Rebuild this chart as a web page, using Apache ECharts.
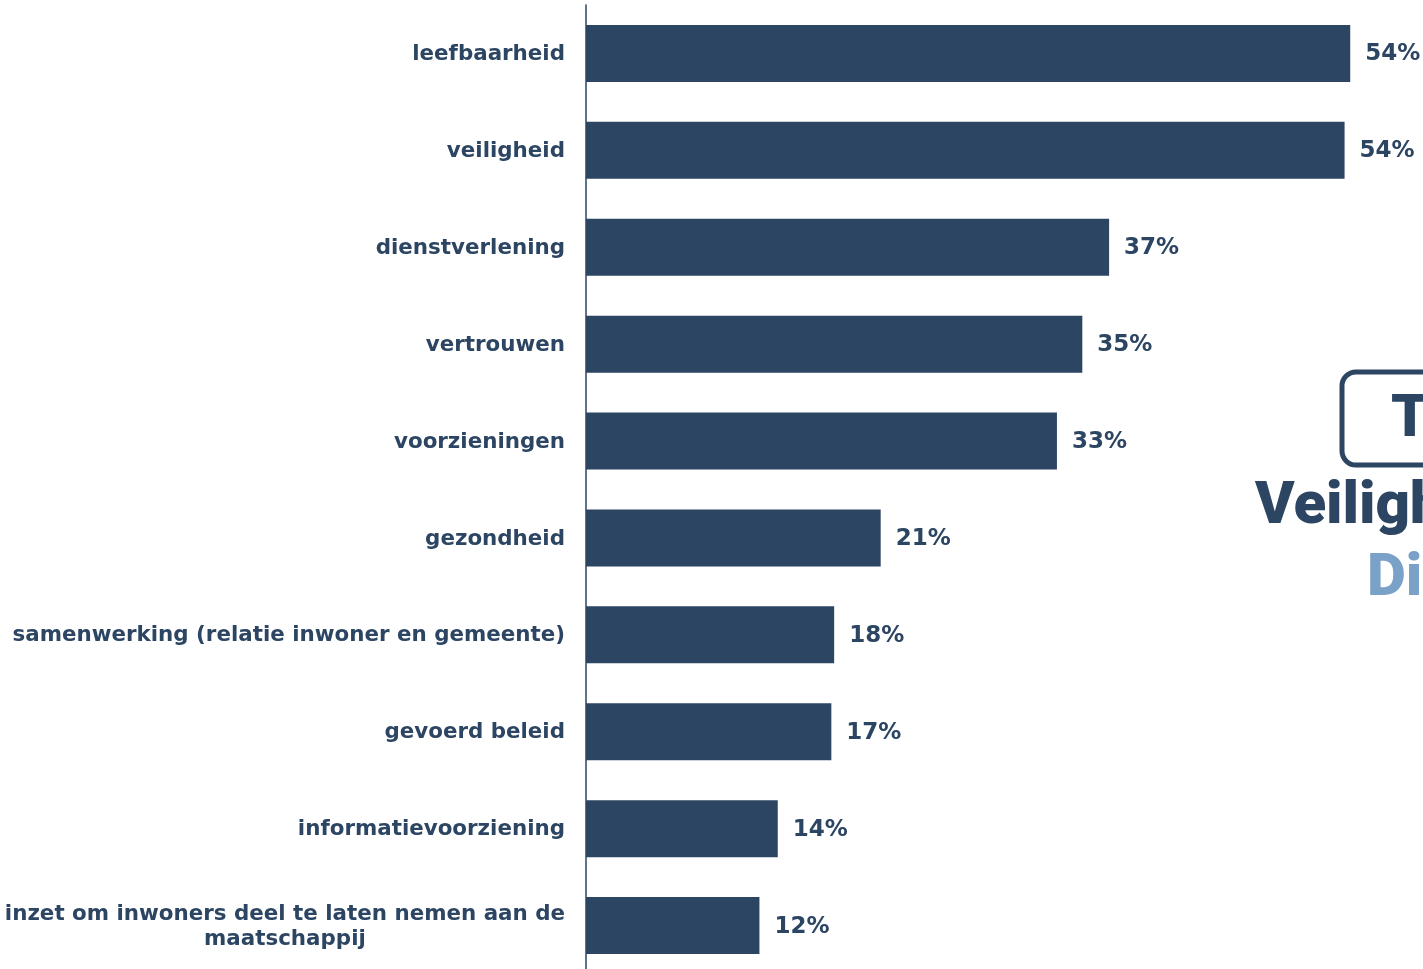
<!DOCTYPE html>
<html><head><meta charset="utf-8">
<script src="https://cdn.jsdelivr.net/npm/echarts@6/dist/echarts.min.js"></script>
<style>html,body{margin:0;padding:0;background:#fff}#c{width:1423px;height:969px}</style>
</head><body><div id="c"></div>
<script>
const categories = [
  'leefbaarheid','veiligheid','dienstverlening','vertrouwen','voorzieningen','gezondheid',
  'samenwerking (relatie inwoner en gemeente)','gevoerd beleid','informatievoorziening',
  'inzet om inwoners deel te laten nemen aan de\nmaatschappij'
];
const values = [54.2, 53.8, 37.1, 35.2, 33.4, 20.9, 17.6, 17.4, 13.6, 12.3];

const NAVY = '#2c4562';
const chart = echarts.init(document.getElementById('c'));
chart.setOption({
  animation: false,
  grid: {left: 586, top: 5, width: 846, height: 969, containLabel: false, outerBoundsMode: 'none'},
  xAxis: {type: 'value', min: 0, max: 60, show: false},
  yAxis: {
    type: 'category', data: categories, inverse: true,
    axisLine: {lineStyle: {color: NAVY, width: 1.5}},
    axisTick: {show: false},
    axisLabel: {
      margin: 21,
      formatter: v => v.split('\n').map(s => '{c|' + s + '}').join('\n'),
      rich: {c: {align: 'center', color: NAVY, fontFamily: 'DejaVu Sans', fontWeight: 'bold', fontSize: 21.4, lineHeight: 25, padding: [2, 0, 0, 0]}}
    }
  },
  series: [{
    type: 'bar', data: values, barWidth: 57,
    itemStyle: {color: NAVY},
    label: {
      show: true, position: 'right', distance: 15, offset: [0, 1],
      formatter: p => Math.round(p.value) + '%',
      color: NAVY, fontFamily: 'DejaVu Sans', fontWeight: 'bold', fontSize: 23
    }
  }],
  graphic: [
    {type: 'rect', shape: {x: 1342, y: 372, width: 120, height: 93, r: 14},
     style: {fill: '#fff', stroke: NAVY, lineWidth: 5}},
    {type: 'text', x: 1391, y: 421, style: {text: 'T', fill: NAVY, font: '900 60px Roboto', verticalAlign: 'middle'}},
    {type: 'text', x: 1255, y: 508, style: {text: 'Veiligheid', fill: NAVY, font: '900 60px Roboto', verticalAlign: 'middle'}},
    {type: 'text', x: 1367, y: 580, style: {text: 'Dienst', fill: '#7aa2c8', font: '900 60px Roboto', verticalAlign: 'middle'}}
  ]
});
</script></body></html>
